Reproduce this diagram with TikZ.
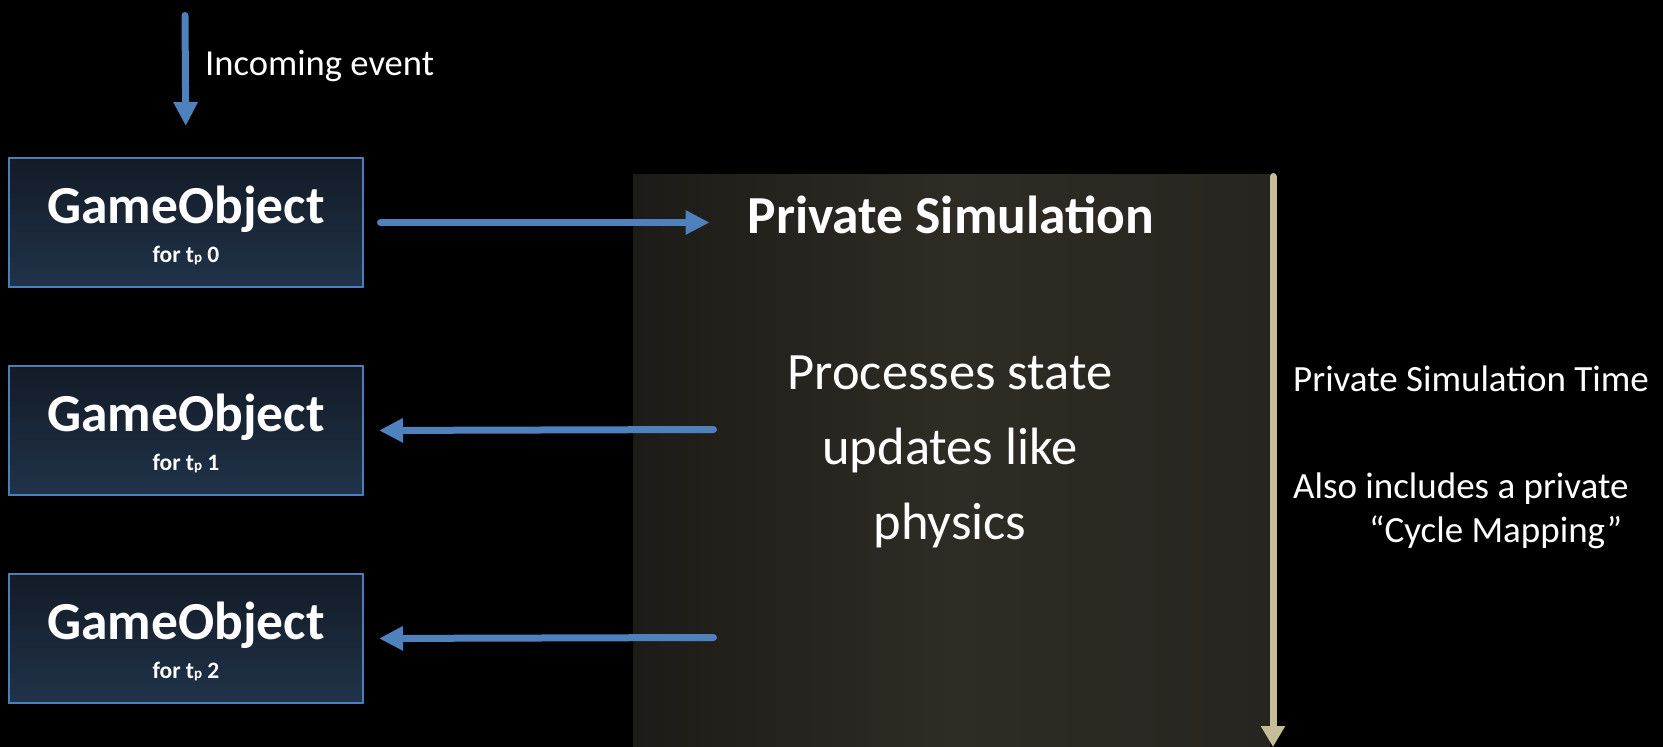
\documentclass[tikz,border=0pt]{standalone}
\usepackage{fontspec}
\setmainfont{Carlito}
\usetikzlibrary{arrows.meta}
\definecolor{arrowblue}{HTML}{4F81BD}
\definecolor{timetan}{HTML}{C4BD97}
\definecolor{boxtop}{HTML}{131B27}
\definecolor{boxbot}{HTML}{203349}
\definecolor{boxedge}{HTML}{4A7EBB}
\definecolor{panelA}{HTML}{1C1B17}
\definecolor{panelB}{HTML}{2F2C25}
\definecolor{panelC}{HTML}{27251F}
\newcommand{\tpsub}{{\fontsize{15}{15}\selectfont p}}
\begin{document}
\begin{tikzpicture}[x=1pt,y=-1pt,
  gobox/.style={draw=boxedge, line width=2pt, top color=boxtop, bottom color=boxbot,
    minimum width=354pt, minimum height=129pt, inner sep=0pt, anchor=north west},
  gotitle/.style={anchor=base, inner sep=0pt, text=white, font=\bfseries\fontsize{53.5}{53.5}\selectfont},
  gosub/.style={anchor=base, inner sep=0pt, text=white, font=\bfseries\fontsize{23.5}{23.5}\selectfont},
  bluearrow/.style={draw=arrowblue, line width=7pt, line cap=round, -{Triangle[length=24pt,width=23pt]}},
  bigtext/.style={anchor=base, inner sep=0pt, text=white, font=\fontsize{52.5}{52.5}\selectfont},
  smalltext/.style={anchor=base west, inner sep=0pt, text=white, font=\fontsize{37}{37}\selectfont}]
\fill[black] (0,0) rectangle (1663,747);
\useasboundingbox (0,0) rectangle (1663,747);

% panel
\node[inner sep=0pt, anchor=north west, minimum width=637pt, minimum height=575pt,
  left color=panelA, right color=panelC, middle color=panelB] (panel) at (633,174) {};

% game object boxes
\node[gobox] (g0) at (8,157) {};
\node[gobox] (g1) at (8,365) {};
\node[gobox] (g2) at (8,573) {};
\node[gotitle] (g0t) at ([yshift=-66pt]g0.north) {GameObject};
\node[gotitle] (g1t) at ([yshift=-66pt]g1.north) {GameObject};
\node[gotitle] (g2t) at ([yshift=-66pt]g2.north) {GameObject};
\node[gosub] (g0s) at ([yshift=-105pt]g0.north) {for t\tpsub\ 0};
\node[gosub] (g1s) at ([yshift=-105pt]g1.north) {for t\tpsub\ 1};
\node[gosub] (g2s) at ([yshift=-105pt]g2.north) {for t\tpsub\ 2};

% texts
\node[smalltext, font=\fontsize{36.6}{36.6}\selectfont] (inc) at (205,75) {Incoming event};
\node[gotitle] (ps) at (951,233) {Private Simulation};
\node[bigtext] (pr1) at (950,389) {Processes state};
\node[bigtext] (pr2) at (950,464) {updates like};
\node[bigtext] (pr3) at (950,539) {physics};
\node[smalltext] (pst) at (1293,391) {Private Simulation Time};
\node[smalltext] (al1) at (1293,498) {Also includes a private};
\node[smalltext] (al2) at (1369,542) {“Cycle Mapping”};

% connectors
\coordinate (inTop) at (185,15.5);
\coordinate (s1) at (713.5,429.5);
\coordinate (s2) at (713.5,637.5);
\coordinate (tTop) at (1273,176.5);
\coordinate (tBot) at (1273,747);
\draw[bluearrow, shorten >=31pt] (inTop) -- (g0.north);
\draw[bluearrow, shorten <=16.5pt, shorten >=38pt] (g0.east) -- (g0.east -| ps.west);
\draw[bluearrow, shorten >=15pt] (s1) -- (g1.east);
\draw[bluearrow, shorten >=15pt] (s2) -- (g2.east);
\draw[draw=timetan, line width=7pt, line cap=round, -{Triangle[length=21pt,width=23pt]}] (tTop) -- (tBot);
\end{tikzpicture}
\end{document}
